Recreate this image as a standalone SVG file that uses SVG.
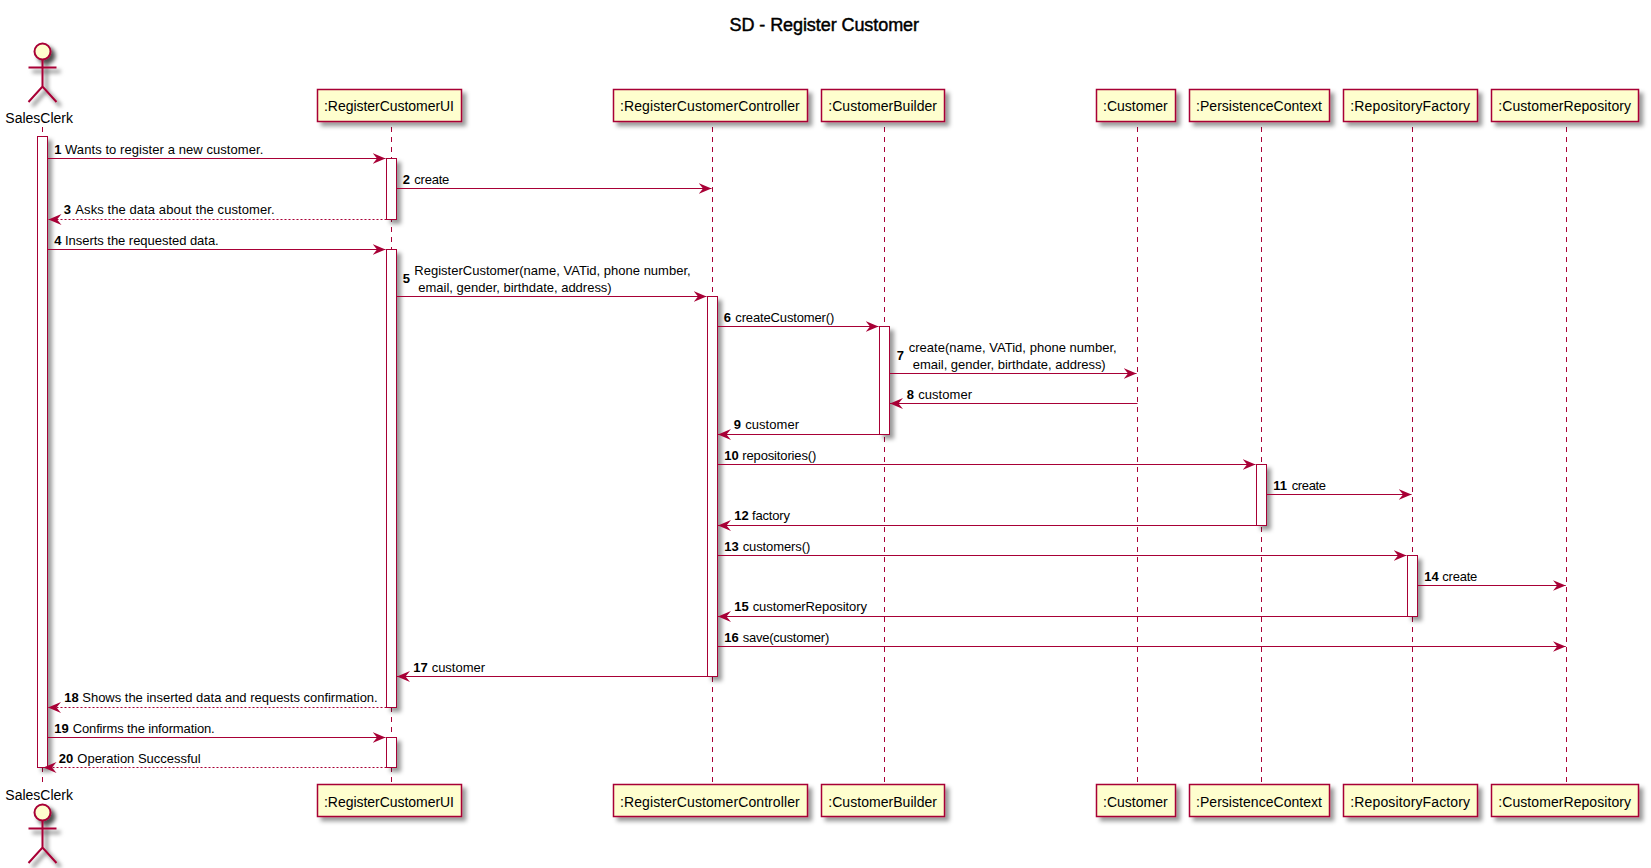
<svg xmlns="http://www.w3.org/2000/svg" width="1651" height="868" viewBox="0 0 1651 868">
<style>
text{font-family:"Liberation Sans",Arial,sans-serif;fill:#000}
.title{font-size:18px;stroke:#000;stroke-width:.45}
.p{font-size:14px}
.m{font-size:13px}
.n{font-size:13px;font-weight:bold}
.box{fill:#FEFECE;stroke:#A80036;stroke-width:1.5;filter:url(#sh)}
.bar{fill:#fff;stroke:#A80036;stroke-width:1;filter:url(#sh)}
.life{stroke:#A80036;stroke-width:1;stroke-dasharray:5,5;fill:none}
.msg{stroke:#A80036;stroke-width:1.2;fill:none;marker-end:url(#arr)}
.ret{stroke-dasharray:2,2}
.fig{filter:url(#sh2)}
.actor{fill:none;stroke:#A80036;stroke-width:2}
.head{fill:#FEFECE;stroke:#A80036;stroke-width:2}
</style>
<defs>
<filter id="sh" x="-100%" y="-100%" width="300%" height="300%">
<feGaussianBlur result="b" stdDeviation="2"/>
<feColorMatrix in="b" result="c" type="matrix" values="0 0 0 0 0 0 0 0 0 0 0 0 0 0 0 0 0 0 .4 0"/>
<feOffset dx="4" dy="4" in="c" result="o"/>
<feBlend in="SourceGraphic" in2="o" mode="normal"/>
</filter>
<filter id="sh2" x="-100%" y="-100%" width="300%" height="300%">
<feGaussianBlur in="SourceAlpha" result="b" stdDeviation="2"/>
<feColorMatrix in="b" result="c" type="matrix" values="0 0 0 0 0 0 0 0 0 0 0 0 0 0 0 0 0 0 .7 0"/>
<feOffset dx="4" dy="4" in="c" result="o"/>
<feBlend in="SourceGraphic" in2="o" mode="normal"/>
</filter>
<marker id="arr" viewBox="0 0 13 11" refX="13" refY="5.5" markerWidth="13" markerHeight="11" orient="auto" markerUnits="userSpaceOnUse"><path d="M0,0 L13,5.5 L0,11 L4.5,5.5 Z" fill="#A80036"/></marker>
</defs>
<text class="title" x="729.5" y="31" textLength="189.5" id="title">SD - Register Customer</text>

<g id="SalesClerk">
<line class="life" x1="42.5" y1="127" x2="42.5" y2="784"/>
<g class="fig"><circle class="head" cx="42.5" cy="51.5" r="8"/>
<path class="actor" d="M42.5,59.5 V86.5 M28.5,67.5 H56.5 M28.5,102 L42.5,86.5 L56.5,102"/></g>
<text class="p" x="5.3" y="123" textLength="67.7">SalesClerk</text>
<rect class="bar" x="37.5" y="136.5" width="10" height="631"/>
<g class="fig"><circle class="head" cx="42.5" cy="812.5" r="8"/>
<path class="actor" d="M42.5,820.5 V847.5 M28.5,828.5 H56.5 M28.5,863 L42.5,847.5 L56.5,863"/></g>
<text class="p" x="5.3" y="800" textLength="67.7">SalesClerk</text>
</g>
<g id="RegisterCustomerUI">
<line class="life" x1="391.5" y1="127" x2="391.5" y2="784"/>
<rect class="box" x="317.5" y="89.5" width="144" height="32"/>
<text class="p" x="324" y="111" textLength="130">:RegisterCustomerUI</text>
<rect class="bar" x="386.5" y="158.5" width="10" height="61"/>
<rect class="bar" x="386.5" y="249.5" width="10" height="458"/>
<rect class="bar" x="386.5" y="737.5" width="10" height="30"/>
<rect class="box" x="317.5" y="784.5" width="144" height="32"/>
<text class="p" x="324" y="807" textLength="130">:RegisterCustomerUI</text>
</g>
<g id="RegisterCustomerController">
<line class="life" x1="712.5" y1="127" x2="712.5" y2="784"/>
<rect class="box" x="613.5" y="89.5" width="194" height="32"/>
<text class="p" x="620" y="111" textLength="179.7">:RegisterCustomerController</text>
<rect class="bar" x="707.5" y="296.5" width="10" height="380"/>
<rect class="box" x="613.5" y="784.5" width="194" height="32"/>
<text class="p" x="620" y="807" textLength="179.7">:RegisterCustomerController</text>
</g>
<g id="CustomerBuilder">
<line class="life" x1="884.5" y1="127" x2="884.5" y2="784"/>
<rect class="box" x="821.5" y="89.5" width="123" height="32"/>
<text class="p" x="828.3" y="111" textLength="108.7">:CustomerBuilder</text>
<rect class="bar" x="879.5" y="326.5" width="10" height="108"/>
<rect class="box" x="821.5" y="784.5" width="123" height="32"/>
<text class="p" x="828.3" y="807" textLength="108.7">:CustomerBuilder</text>
</g>
<g id="Customer">
<line class="life" x1="1137.5" y1="127" x2="1137.5" y2="784"/>
<rect class="box" x="1096.5" y="89.5" width="79" height="32"/>
<text class="p" x="1103" y="111" textLength="64.7">:Customer</text>
<rect class="box" x="1096.5" y="784.5" width="79" height="32"/>
<text class="p" x="1103" y="807" textLength="64.7">:Customer</text>
</g>
<g id="PersistenceContext">
<line class="life" x1="1261.5" y1="127" x2="1261.5" y2="784"/>
<rect class="box" x="1189.5" y="89.5" width="140" height="32"/>
<text class="p" x="1196" y="111" textLength="126">:PersistenceContext</text>
<rect class="bar" x="1256.5" y="464.5" width="10" height="61"/>
<rect class="box" x="1189.5" y="784.5" width="140" height="32"/>
<text class="p" x="1196" y="807" textLength="126">:PersistenceContext</text>
</g>
<g id="RepositoryFactory">
<line class="life" x1="1412.5" y1="127" x2="1412.5" y2="784"/>
<rect class="box" x="1343.5" y="89.5" width="134" height="32"/>
<text class="p" x="1350.3" y="111" textLength="119.7">:RepositoryFactory</text>
<rect class="bar" x="1407.5" y="555.5" width="10" height="61"/>
<rect class="box" x="1343.5" y="784.5" width="134" height="32"/>
<text class="p" x="1350.3" y="807" textLength="119.7">:RepositoryFactory</text>
</g>
<g id="CustomerRepository">
<line class="life" x1="1566.5" y1="127" x2="1566.5" y2="784"/>
<rect class="box" x="1491.5" y="89.5" width="147" height="32"/>
<text class="p" x="1498.3" y="111" textLength="132.7">:CustomerRepository</text>
<rect class="box" x="1491.5" y="784.5" width="147" height="32"/>
<text class="p" x="1498.3" y="807" textLength="132.7">:CustomerRepository</text>
</g>

<g id="connectors">
<line class="msg" x1="47.5" y1="158.5" x2="385.5" y2="158.5"/>
<text class="n" x="54.3" y="154">1</text><text class="m" x="65" y="154" textLength="198.3">Wants to register a new customer.</text>
<line class="msg" x1="396.5" y1="188.5" x2="711.5" y2="188.5"/>
<text class="n" x="402.7" y="184">2</text><text class="m" x="414.3" y="184" textLength="35">create</text>
<line class="msg ret" x1="386.5" y1="219.5" x2="48.5" y2="219.5"/>
<text class="n" x="63.7" y="214">3</text><text class="m" x="75.3" y="214" textLength="199.3">Asks the data about the customer.</text>
<line class="msg" x1="47.5" y1="249.5" x2="385.5" y2="249.5"/>
<text class="n" x="54.3" y="245">4</text><text class="m" x="65" y="245" textLength="153.7">Inserts the requested data.</text>
<line class="msg" x1="396.5" y1="296.5" x2="706.5" y2="296.5"/>
<text class="n" x="402.7" y="283">5</text><text class="m" x="414.3" y="275" textLength="276.4">RegisterCustomer(name, VATid, phone number,</text><text class="m" x="418.3" y="292" textLength="193.4">email, gender, birthdate, address)</text>
<line class="msg" x1="717.5" y1="326.5" x2="878.5" y2="326.5"/>
<text class="n" x="723.7" y="322">6</text><text class="m" x="735.3" y="322" textLength="99">createCustomer()</text>
<line class="msg" x1="889.5" y1="373.5" x2="1136.5" y2="373.5"/>
<text class="n" x="896.7" y="360">7</text><text class="m" x="908.7" y="352" textLength="208">create(name, VATid, phone number,</text><text class="m" x="912.7" y="369" textLength="193">email, gender, birthdate, address)</text>
<line class="msg" x1="1137.5" y1="403.5" x2="890" y2="403.5"/>
<text class="n" x="906.7" y="399">8</text><text class="m" x="918.3" y="399" textLength="53.7">customer</text>
<line class="msg" x1="879.5" y1="434.5" x2="718" y2="434.5"/>
<text class="n" x="733.7" y="429">9</text><text class="m" x="745.3" y="429" textLength="53.7">customer</text>
<line class="msg" x1="717.5" y1="464.5" x2="1255.5" y2="464.5"/>
<text class="n" x="724.3" y="460">10</text><text class="m" x="742.3" y="460" textLength="74">repositories()</text>
<line class="msg" x1="1266.5" y1="494.5" x2="1411.5" y2="494.5"/>
<text class="n" x="1273.3" y="490">11</text><text class="m" x="1291.7" y="490" textLength="34.3">create</text>
<line class="msg" x1="1256.5" y1="525.5" x2="718" y2="525.5"/>
<text class="n" x="734.3" y="520">12</text><text class="m" x="752" y="520" textLength="38">factory</text>
<line class="msg" x1="717.5" y1="555.5" x2="1406.5" y2="555.5"/>
<text class="n" x="724.3" y="551">13</text><text class="m" x="742.7" y="551" textLength="67.6">customers()</text>
<line class="msg" x1="1417.5" y1="585.5" x2="1565.7" y2="585.5"/>
<text class="n" x="1424.3" y="581">14</text><text class="m" x="1442.3" y="581" textLength="35">create</text>
<line class="msg" x1="1407.5" y1="616.5" x2="718" y2="616.5"/>
<text class="n" x="734.3" y="611">15</text><text class="m" x="752.7" y="611" textLength="114.3">customerRepository</text>
<line class="msg" x1="717.5" y1="646.5" x2="1565.7" y2="646.5"/>
<text class="n" x="724.3" y="642">16</text><text class="m" x="742.7" y="642" textLength="86.6">save(customer)</text>
<line class="msg" x1="707.5" y1="676.5" x2="397" y2="676.5"/>
<text class="n" x="413.3" y="672">17</text><text class="m" x="431.7" y="672" textLength="53.3">customer</text>
<line class="msg ret" x1="386.5" y1="707.5" x2="48" y2="707.5"/>
<text class="n" x="64.3" y="702">18</text><text class="m" x="82.3" y="702" textLength="295.4">Shows the inserted data and requests confirmation.</text>
<line class="msg" x1="47.5" y1="737.5" x2="385.5" y2="737.5"/>
<text class="n" x="54.3" y="733">19</text><text class="m" x="72.7" y="733" textLength="142">Confirms the information.</text>
<line class="msg ret" x1="386.5" y1="767.5" x2="43.5" y2="767.5"/>
<text class="n" x="58.7" y="763">20</text><text class="m" x="77.3" y="763" textLength="123.4">Operation Successful</text>
</g>
</svg>
